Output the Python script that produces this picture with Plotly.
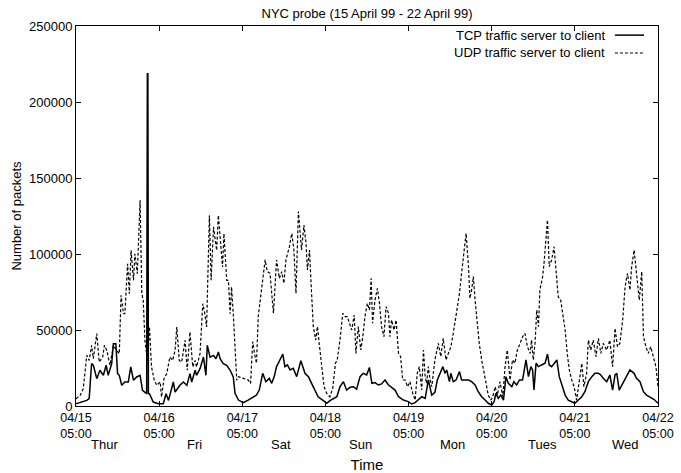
import pandas as pd
import plotly.graph_objects as go

start = pd.Timestamp("1999-04-15 05:00")

# hours since 04/15 05:00 and packets
tcp_hours = [0.0, 3.1, 3.8, 4.5, 5.0, 6.0, 6.9, 7.9, 8.7, 9.3, 10.3, 10.8, 11.5, 12.0, 12.5, 13.2, 14.1, 15.1, 15.8, 16.6,
             17.5, 18.5, 19.2, 19.9, 20.4, 20.6, 20.75, 20.9, 21.2, 22.3, 23.8, 25.2, 26.0, 26.7, 28.1, 28.6, 30.0, 31.0, 32.0,
             32.9, 33.4, 34.4, 34.8, 35.8, 36.8, 37.5, 37.9, 38.7, 39.7, 40.4, 41.1, 41.6, 42.5, 43.5, 44.5, 45.4, 45.9,
             46.9, 48.3, 49.7, 51.2, 52.1, 52.9, 53.9, 54.8, 55.8, 56.5, 57.2, 57.9, 58.9, 59.7, 60.3, 61.0, 61.8, 62.7,
             63.7, 64.9, 66.1, 67.1, 68.0, 69.0, 69.9, 71.4, 72.4, 73.3, 74.3, 75.3, 76.2, 77.2, 78.1, 79.1, 80.1, 81.0,
             82.0, 82.9, 83.9, 84.7, 85.4, 86.3, 87.3, 88.2, 89.2, 90.2, 91.1, 92.1, 93.1, 94.5, 95.9, 96.9, 97.9, 98.8,
             99.8, 100.8, 101.7, 102.7, 103.6, 104.3, 105.1, 105.9, 106.5, 107.0, 107.8, 108.2, 108.9, 109.7, 110.7,
             111.3, 112.3, 113.3, 114.2, 115.2, 116.1, 117.1, 118.1, 119.0, 120.0, 120.7, 121.2, 121.9, 122.6, 123.4,
             124.1, 124.8, 125.8, 126.4, 127.2, 128.0, 128.9, 129.9, 130.6, 131.3, 131.8, 132.2, 132.8, 133.5, 134.4,
             135.4, 136.1, 136.6, 137.3, 138.0, 138.8, 139.5, 140.2, 141.2, 142.1, 143.1, 144.0, 145.0, 146.0, 146.9,
             147.9, 148.9, 149.8, 150.8, 151.5, 152.2, 153.2, 154.1, 154.9, 155.6, 156.1, 156.8, 157.8, 159.0, 159.9,
             161.1, 161.8, 162.8, 163.8, 164.7, 165.7, 166.8, 168.0]
tcp_packets = [1500, 3700, 4800, 27900, 26800, 18000, 23500, 20200, 26800, 20200, 27900, 41000, 41000, 21300, 20200,
               13600, 15800, 15800, 25700, 16900, 19100, 20200, 10300, 9200, 8100, 218600, 218600, 8100, 8100, 2600,
               1500, 1500, 8100, 3700, 15800, 9200, 13600, 15800, 13600, 21300, 15800, 23500, 20200, 24600, 32200,
               20200, 39900, 32200, 33300, 31100, 35500, 31100, 27900, 26800, 23500, 19100, 8300, 3900, 2200, 3900,
               5700, 7200, 10500, 21500, 16000, 18200, 14900, 19300, 25900, 30300, 34200, 25900, 27000, 23700, 24800,
               19300, 29800, 21500, 19300, 14900, 10500, 6100, 3500, 1800, 3500, 5000, 6100, 12700, 16000, 10500,
               12300, 12700, 11000, 19300, 21500, 20400, 25400, 14900, 15400, 13800, 14500, 17100, 13800, 12300,
               10500, 6100, 3900, 2900, 1300, 2200, 3900, 6100, 5000, 17100, 7200, 9000, 17100, 21500, 25900, 21500,
               23700, 16000, 21500, 16000, 17100, 22600, 17100, 17100, 17100, 16000, 13800, 9400, 6100, 3900, 1800,
               700, 2900, 8300, 5000, 7200, 3900, 19300, 14900, 12700, 16000, 13800, 17100, 17100, 30300, 19300,
               25900, 23700, 10500, 28100, 25900, 27000, 28100, 34200, 27000, 25900, 28100, 30300, 19300, 13800,
               7200, 3900, 2900, 1800, 3900, 6100, 9400, 16000, 19300, 21500, 21500, 20400, 18200, 16000, 20400,
               10500, 20400, 21500, 10500, 14900, 19300, 23700, 21500, 18200, 16000, 9400, 7200, 6100, 4400, 1800]

udp_hours = [0.0, 1.2, 2.1, 3.1, 3.8, 4.5, 5.0, 6.0, 6.7, 7.7, 8.2, 8.9, 9.8, 10.8, 11.7, 12.5, 13.0, 13.7, 14.1, 14.9,
             15.4, 15.9, 16.6, 17.0, 17.7, 18.5, 19.0, 19.4, 19.9, 20.6, 21.2, 21.8, 22.6, 23.3, 24.3, 24.7, 25.4, 26.2,
             27.1, 27.9, 28.6, 29.1, 29.8, 30.5, 31.5, 32.1, 32.9, 33.7, 34.4, 34.8, 35.8, 36.6, 37.2, 37.7, 38.5, 39.0,
             39.7, 40.1, 40.6, 41.1, 41.6, 42.3, 42.7, 43.5, 44.0, 44.5, 44.9, 45.4, 46.4, 46.9, 48.3, 49.7, 50.4, 51.0,
             51.7, 52.1, 52.6, 53.6, 54.6, 55.2, 56.0, 57.0, 57.9, 58.7, 59.4, 60.0, 60.6, 61.6, 62.3, 62.9, 63.5, 64.2,
             64.7, 65.1, 65.8, 66.4, 66.8, 67.4, 68.0, 68.5, 69.2, 69.7, 70.2, 70.9, 71.6, 72.4, 73.3, 74.1, 74.9, 75.4,
             76.2, 77.0, 77.7, 78.3, 78.9, 79.6, 80.3, 80.8, 81.5, 82.2, 82.8, 83.4, 84.1, 84.7, 85.2, 85.6, 86.3, 87.0,
             87.6, 88.2, 88.9, 89.5, 90.2, 90.6, 91.1, 91.8, 92.4, 93.1, 93.7, 94.3, 95.0, 95.7, 96.4, 97.2, 97.9, 98.5,
             99.1, 99.8, 100.3, 100.8, 101.2, 101.7, 102.2, 102.7, 103.6, 104.6, 105.3, 106.0, 106.8, 107.5, 108.2,
             108.9, 109.9, 110.7, 111.3, 112.0, 112.6, 113.3, 113.7, 114.2, 114.7, 115.2, 115.7, 116.4, 117.1, 117.8,
             118.4, 119.0, 119.7, 120.3, 121.0, 121.6, 122.4, 123.2, 123.8, 124.5, 125.3, 126.0, 126.7, 127.4, 128.2,
             128.9, 129.6, 130.3, 131.1, 131.5, 132.0, 132.5, 133.0, 133.5, 133.9, 134.7, 135.1, 135.7, 136.1, 136.6,
             137.3, 138.0, 138.6, 139.2, 139.9, 140.5, 141.2, 141.8, 142.4, 143.1, 143.8, 144.5, 145.3, 146.0, 146.6,
             147.4, 147.9, 148.6, 149.3, 150.1, 150.8, 151.5, 152.2, 153.2, 154.1, 154.9, 155.6, 156.3, 157.0, 157.8,
             158.5, 159.2, 159.9, 160.4, 161.1, 161.8, 162.6, 163.3, 163.8, 164.5, 165.2, 165.9, 166.7, 167.4, 168.0]
udp_packets = [4800, 7000, 11400, 33300, 30000, 39900, 31100, 47600, 28900, 32200, 39900, 36600, 26800, 39900, 36600,
               34400, 72800, 60700, 60700, 93600, 73900, 102400, 82700, 100200, 87100, 135300, 73900, 69500, 43200,
               30000, 52000, 25700, 16900, 13600, 15800, 5900, 18000, 21300, 32200, 30000, 36600, 52000, 30000, 28900,
               43200, 23500, 48700, 25700, 30000, 25700, 34400, 67300, 60700, 52000, 125400, 82700, 117800, 111200,
               102400, 125400, 111200, 91400, 113400, 82700, 82700, 60700, 78300, 60700, 16900, 19300, 18200, 17100,
               14900, 42300, 32500, 28100, 58800, 76300, 96100, 88400, 87300, 61000, 96100, 84000, 88400, 80700, 96100,
               104800, 113600, 102600, 74100, 127900, 115800, 102600, 119100, 107000, 89500, 102600, 74100, 52200,
               43400, 52200, 41200, 28100, 12700, 8300, 6100, 11600, 28100, 30300, 43400, 61000, 58800, 58800, 54400,
               50000, 59900, 34600, 52200, 36800, 45600, 58800, 67500, 63200, 84000, 54400, 69700, 77400, 67500, 52200,
               45600, 65400, 61000, 45600, 56600, 50000, 56600, 34600, 32500, 17100, 17100, 12700, 16000, 8300, 3900,
               21500, 25900, 10500, 36800, 19300, 14900, 25900, 17100, 12700, 30300, 41200, 32500, 44500, 30300, 34600,
               39000, 47800, 61000, 74100, 87300, 100400, 113600, 91700, 70800, 76300, 85100, 69700, 56600, 41200,
               30300, 21500, 12700, 7200, 3900, 6100, 12700, 7200, 16000, 6100, 24800, 36800, 17100, 30300, 28100,
               36800, 41200, 45600, 47800, 39000, 34600, 43400, 30300, 41200, 63200, 52200, 76300, 85100, 93900,
               109200, 122400, 91700, 96100, 104800, 85100, 71900, 69700, 61000, 50000, 34600, 23700, 17100, 12700,
               3900, 17100, 28100, 12700, 21500, 43400, 36800, 43400, 32500, 44500, 34600, 41200, 36800, 43400, 25900,
               51100, 39000, 41200, 56600, 78500, 87300, 76300, 91700, 102600, 87300, 69700, 88400, 45600, 39000,
               34600, 39000, 32500, 25900, 12700]

tick_days = [0, 1, 2, 3, 4, 5, 6, 7]
tick_labels = ["04/15<br>05:00", "04/16<br>05:00", "04/17<br>05:00", "04/18<br>05:00",
               "04/19<br>05:00", "04/20<br>05:00", "04/21<br>05:00", "04/22<br>05:00"]
day_names = ["Thur", "Fri", "Sat", "Sun", "Mon", "Tues", "Wed"]
day_name_hours = [8.1, 34.1, 59.3, 82.0, 108.7, 134.7, 158.5]
y_ticks = [0, 50000, 100000, 150000, 200000, 250000]

FONT = "Liberation Sans, Arial, Helvetica, sans-serif"

def to_time(hours):
    return [start + pd.Timedelta(hours=h) for h in hours]

fig = go.Figure()
fig.add_trace(go.Scatter(x=to_time(tcp_hours), y=tcp_packets, mode="lines",
                         name="TCP traffic server to client",
                         line=dict(color="black", width=1.5), showlegend=False))
fig.add_trace(go.Scatter(x=to_time(udp_hours), y=udp_packets, mode="lines",
                         name="UDP traffic server to client",
                         line=dict(color="black", width=1.2, dash="3px,2px"), showlegend=False))

annotations = []
for name, h in zip(day_names, day_name_hours):
    annotations.append(dict(x=start + pd.Timedelta(hours=h), y=-0.102, xref="x", yref="paper",
                            text=name, showarrow=False, xanchor="center", yanchor="middle",
                            font=dict(family=FONT, size=13, color="black")))

# legend drawn gnuplot-style: text right, sample line at right
legend_rows = [("TCP traffic server to client", "solid", 1.5), ("UDP traffic server to client", "3px,2px", 1.2)]
legend_y = [0.976, 0.929]
shapes = []
for (label, dash, w), ly in zip(legend_rows, legend_y):
    annotations.append(dict(x=0.912, y=ly, xref="paper", yref="paper", text=label, showarrow=False,
                            xanchor="right", yanchor="middle", font=dict(family=FONT, size=13, color="black")))
    shapes.append(dict(type="line", xref="paper", yref="paper", x0=0.926, x1=0.976, y0=ly, y1=ly,
                       line=dict(color="black", width=w, dash=dash)))

fig.update_layout(
    width=681, height=473,
    margin=dict(l=76, r=23, t=26, b=67),
    paper_bgcolor="white", plot_bgcolor="white",
    font=dict(family=FONT, size=13, color="black"),
    title=dict(text="NYC probe (15 April 99 - 22 April 99)", x=0.5, xref="paper",
               y=1 - 13 / 473, yref="container", xanchor="center", yanchor="middle",
               font=dict(family=FONT, size=13, color="black")),
    annotations=annotations, shapes=shapes,
)
fig.update_xaxes(
    type="date",
    range=[start, start + pd.Timedelta(days=7)],
    tickvals=[start + pd.Timedelta(days=d) for d in tick_days], ticktext=tick_labels,
    tickfont=dict(family=FONT, size=12.5),
    ticks="inside", ticklen=5, tickcolor="black", showline=True, linecolor="black", linewidth=1,
    mirror="ticks", showgrid=False, zeroline=False,
    title=dict(text="Time", standoff=22, font=dict(family=FONT, size=15)),
    automargin=False,
)
fig.update_yaxes(
    range=[0, 250000], tickvals=y_ticks, tickformat="d",
    ticks="inside", ticklen=5, tickcolor="black", showline=True, linecolor="black", linewidth=1,
    mirror="ticks", showgrid=False, zeroline=False,
    title=dict(text="Number of packets", standoff=4, font=dict(family=FONT, size=13)),
    automargin=False,
)

fig.write_html("out.html")
